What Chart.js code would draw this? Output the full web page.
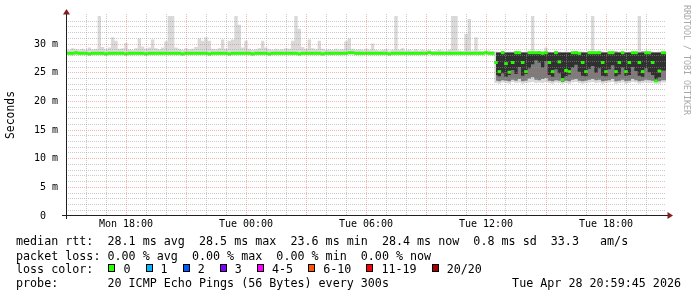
<!DOCTYPE html>
<html>
<head>
<meta charset="utf-8">
<script src="https://cdn.jsdelivr.net/npm/chart.js@4.4.1/dist/chart.umd.min.js"></script>
<style>
html,body{margin:0;padding:0;background:#fff;}
#wrap{position:relative;width:697px;height:297px;overflow:hidden;font-family:"DejaVu Sans Mono",monospace;color:#000;}
#chart{position:absolute;left:0;top:0;}
.leg{position:absolute;left:16px;font-size:11.7px;line-height:14px;white-space:pre;}
.box{display:inline-block;width:5px;height:6px;border:1px solid #000;vertical-align:top;margin:2px 8px 0 1px;}
#stamp{position:absolute;right:16px;top:276px;font-size:11.7px;line-height:14px;white-space:pre;}
#credit{position:absolute;left:682px;top:5px;font-size:8.3px;line-height:10px;writing-mode:vertical-rl;color:#a8a8a8;white-space:pre;}
</style>
</head>
<body>
<div id="wrap">
  <canvas id="chart" width="697" height="297"></canvas>
  <div class="leg" id="rtt" style="top:234px"></div>
  <div class="leg" id="loss" style="top:249px"></div>
  <div class="leg" id="lossRow" style="top:262px"></div>
  <div class="leg" id="probe" style="top:276px"></div>
  <div id="stamp"></div>
  <div id="credit">RRDTOOL / TOBI OETIKER</div>
</div>
<script>
// 10 minute samples, hour 0 = Mon 15:00, hour 30 = Tue 21:00
const stepMinutes = 10;

const xTickHours  = [3, 9, 15, 21, 27];
const xTickLabels = ["Mon 18:00", "Tue 00:00", "Tue 06:00", "Tue 12:00", "Tue 18:00"];
const yTickValues = [0, 5, 10, 15, 20, 25, 30];
const yTickLabels = ["0  ", "5 m", "10 m", "15 m", "20 m", "25 m", "30 m"];

// median rtt (ms), one per sample
const median = [
  28.4,28.4,28.4,28.5,28.4,28.4,28.4,28.3,28.4,28.4,
  28.4,28.4,28.3,28.4,28.4,28.4,28.4,28.4,28.3,28.4,
  28.4,28.4,28.4,28.4,28.3,28.4,28.4,28.4,28.4,28.4,
  28.4,28.4,28.4,28.4,28.4,28.3,28.4,28.4,28.4,28.4,
  28.4,28.4,28.4,28.3,28.4,28.4,28.4,28.4,28.4,28.3,
  28.4,28.4,28.4,28.4,28.4,28.4,28.3,28.4,28.4,28.4,
  28.4,28.3,28.4,28.4,28.4,28.4,28.4,28.4,28.4,28.4,
  28.3,28.4,28.4,28.4,28.4,28.4,28.4,28.3,28.4,28.4,
  28.4,28.4,28.4,28.4,28.4,28.5,28.5,28.4,28.4,28.4,
  28.4,28.4,28.4,28.4,28.4,28.4,28.4,28.3,28.4,28.4,
  28.4,28.4,28.4,28.4,28.4,28.4,28.4,28.4,28.4,28.5,
  28.4,28.4,28.4,28.4,28.4,28.4,28.4,28.4,28.4,28.4,
  28.4,28.4,28.4,28.4,28.4,28.4,28.5,28.4,28.4,
  26.8,25.2,28.5,26.6,25.1,26.8,28.5,28.5,26.8,25.2,
  28.5,28.5,28.5,28.5,28.4,28.5,26.8,25.2,28.5,26.9,
  23.8,25.4,25.2,28.5,28.5,28.4,26.8,25.2,28.5,28.5,
  28.5,28.5,26.8,25.2,28.5,28.5,25.2,26.8,28.5,25.2,
  26.8,28.5,28.5,26.8,25.2,28.5,28.5,26.8,23.6,25.3,
  28.5,28.5
];

// slowest ping per sample (top of the smoke)
const pingMax = [
  29.2,29.0,29.3,29.1,29.0,29.2,29.0,29.4,29.1,29.2,
  34.9,29.5,29.1,29.4,31.2,30.6,29.2,29.3,30.2,29.1,
  29.0,29.3,31.0,29.6,29.2,29.4,30.8,29.3,29.1,29.4,
  30.5,34.9,34.9,29.4,29.2,29.0,29.3,29.1,29.2,29.5,
  31.0,30.6,31.2,30.6,29.2,29.1,29.3,30.8,29.2,30.6,
  30.8,34.9,33.4,29.4,30.6,29.2,29.0,29.1,29.3,30.6,
  29.4,29.1,29.0,29.2,29.0,29.1,29.3,29.2,30.6,34.9,
  32.7,29.5,29.2,30.8,29.3,29.1,30.6,29.2,29.0,29.1,
  29.0,29.2,29.0,29.1,30.5,31.0,29.2,29.0,29.1,29.0,
  29.2,29.0,30.1,29.0,28.9,29.0,29.1,28.9,29.0,34.9,
  29.0,29.3,28.9,29.0,28.9,29.1,28.9,29.0,28.9,29.0,
  28.8,28.9,29.0,28.9,28.8,29.0,34.9,34.9,28.9,28.8,
  31.8,34.4,28.9,31.2,28.9,28.8,28.8,28.9,28.8,
  28.7,28.6,28.7,28.6,28.7,28.7,28.6,28.7,28.6,28.7,
  28.7,34.9,28.7,28.6,28.8,29.4,28.7,28.6,28.7,28.7,
  28.6,28.7,28.6,28.7,28.8,28.6,28.7,28.6,28.7,34.9,
  28.7,28.6,28.7,28.6,28.7,28.8,28.6,28.7,28.7,28.6,
  28.7,28.7,28.6,34.9,28.7,28.7,28.6,28.7,28.6,28.7,
  28.7,28.7
];

// fastest ping per sample (bottom of the smoke)
const pingMin = [
  28.1,28.1,28.0,28.1,28.1,28.2,28.1,28.0,28.1,28.1,
  28.1,28.1,28.0,28.1,28.1,28.1,28.2,28.1,28.0,28.1,
  28.1,28.1,28.1,28.1,28.0,28.1,28.1,28.1,28.2,28.1,
  28.1,28.1,28.1,28.1,28.1,28.0,28.1,28.1,28.1,28.1,
  28.1,28.2,28.1,28.0,28.1,28.1,28.1,28.1,28.1,28.0,
  28.1,28.1,28.1,28.1,28.2,28.1,28.0,28.1,28.1,28.1,
  28.1,28.0,28.1,28.1,28.1,28.1,28.1,28.2,28.1,28.1,
  28.0,28.1,28.1,28.1,28.1,28.1,28.1,28.0,28.1,28.1,
  28.1,28.1,28.1,28.1,28.1,28.2,28.2,28.1,28.1,28.1,
  28.1,28.1,28.1,28.1,28.1,28.1,28.1,28.0,28.1,28.1,
  28.1,28.1,28.1,28.1,28.1,28.1,28.1,28.1,28.1,28.2,
  28.1,28.1,28.1,28.1,28.1,28.1,28.1,28.1,28.1,28.1,
  28.1,28.1,28.1,28.1,28.1,28.1,28.2,28.1,28.0,
  23.2,23.1,23.3,23.2,23.1,23.4,23.2,23.3,23.1,23.2,
  23.3,23.4,23.2,23.3,23.2,23.4,23.2,23.1,23.3,23.2,
  23.1,23.2,23.1,23.3,23.4,23.2,23.1,23.2,23.3,23.4,
  23.2,23.3,23.1,23.2,23.3,23.4,23.1,23.2,23.3,23.1,
  23.2,23.4,23.3,23.1,23.2,23.3,23.2,23.2,23.1,23.1,
  23.3,23.3
];

// inner smoke, from the 12:30 sample on (sample 129)
const bandStart = 129;
const midLo = [
  23.6,23.5,23.7,23.6,23.5,23.8,23.6,23.9,23.5,23.6,
  24.0,24.2,23.8,23.7,23.9,24.1,23.6,23.5,23.7,23.6,
  23.4,23.6,23.5,23.8,23.9,23.6,23.5,23.6,23.8,23.9,
  23.7,23.8,23.5,23.6,23.7,23.9,23.5,23.6,23.8,23.5,
  23.6,23.9,23.7,23.5,23.6,23.8,23.7,23.6,23.4,23.5,
  23.7,23.7
];
const midHi = [
  28.6,28.6,28.7,28.6,28.6,28.6,28.7,28.6,28.6,28.6,
  28.6,28.6,28.6,28.7,28.6,28.6,28.6,28.6,28.7,28.6,
  28.6,28.6,28.6,28.6,28.7,28.6,28.6,28.6,28.6,28.6,
  28.6,28.7,28.6,28.6,28.6,28.6,28.7,28.6,28.6,28.6,
  28.6,28.6,28.6,28.6,28.7,28.6,28.6,28.6,28.6,28.6,
  28.6,28.6
];
const darkLo = [
  24.6,24.4,24.9,24.3,24.6,25.5,24.8,26.0,24.5,24.8,
  25.8,26.5,27.2,26.8,25.9,27.0,24.6,24.3,25.6,24.9,
  23.6,24.4,24.7,25.9,26.4,25.2,24.5,24.4,25.7,26.2,
  25.0,25.8,24.5,24.4,25.6,26.3,24.4,24.7,25.9,24.5,
  24.6,26.0,25.3,24.5,24.3,25.8,25.1,24.6,23.5,24.2,
  25.4,25.4
];
const darkHi = [
  28.5,28.5,28.5,28.5,28.5,28.5,28.5,28.5,28.5,28.5,
  28.5,28.4,28.5,28.5,28.5,28.5,28.5,28.5,28.5,28.5,
  28.5,28.5,28.5,28.5,28.5,28.5,28.5,28.5,28.5,28.5,
  28.5,28.5,28.5,28.5,28.5,28.5,28.5,28.5,28.5,28.5,
  28.5,28.5,28.5,28.5,28.5,28.5,28.5,28.5,28.5,28.5,
  28.5,28.5
];

const lossLabels = ["0", "1", "2", "3", "4-5", "6-10", "11-19", "20/20"];
const lossColors = ["#26ff00", "#00b8ff", "#0059ff", "#7e00ff", "#ff00ff", "#ff5500", "#ff0000", "#a10000"];

const rttText   = "median rtt:  28.1 ms avg  28.5 ms max  23.6 ms min  28.4 ms now  0.8 ms sd  33.3   am/s";
const lossText  = "packet loss: 0.00 % avg  0.00 % max  0.00 % min  0.00 % now";
const probeText = "probe:       20 ICMP Echo Pings (56 Bytes) every 300s";
const stampText = "Tue Apr 28 20:59:45 2026";

const MONO = "DejaVu Sans Mono";
const GRID = "rgba(150,150,150,0.5)";
const MGRID = "rgba(232,90,90,0.45)";

const byId = (id)=>document.getElementById(id);
const pts = (arr, start=0)=> arr.map((v,i)=>({x:(start+i)*stepMinutes/60, y:v}));

function band(data, order){
  return {data, order, borderWidth:0, pointRadius:0, stepped:"middle", fill:false};
}
function bandTop(data, order, color){
  return {data, order, borderWidth:0, pointRadius:0, stepped:"middle", fill:"-1", backgroundColor:color};
}

const axisArrows = {
  id:"axisArrows",
  afterDraw(chart){
    const {ctx, chartArea:a} = chart;
    ctx.save();
    ctx.strokeStyle = "#1f1f1f";
    ctx.lineWidth = 1;
    ctx.beginPath();
    ctx.moveTo(a.left-4, a.bottom-0.5); ctx.lineTo(a.right+2, a.bottom-0.5);
    ctx.moveTo(a.left+0.5, a.bottom+3); ctx.lineTo(a.left+0.5, a.top);
    ctx.stroke();
    ctx.fillStyle = "#801f1f";
    ctx.beginPath();
    ctx.moveTo(a.left+0.5, a.top-5); ctx.lineTo(a.left-3, a.top+0.5); ctx.lineTo(a.left+4, a.top+0.5);
    ctx.fill();
    ctx.beginPath();
    ctx.moveTo(a.right+7, a.bottom-0.5); ctx.lineTo(a.right+1.5, a.bottom-4); ctx.lineTo(a.right+1.5, a.bottom+3);
    ctx.fill();
    ctx.restore();
  }
};

function legend(){
  byId("rtt").textContent = rttText;
  byId("loss").textContent = lossText;
  byId("probe").textContent = probeText;
  byId("stamp").textContent = stampText;
  const row = byId("lossRow");
  row.textContent = "loss color:  ";
  lossLabels.forEach((lab,i)=>{
    const b = document.createElement("span");
    b.className = "box";
    b.style.background = lossColors[i];
    row.appendChild(b);
    row.appendChild(document.createTextNode(lab + "  "));
  });
}

function draw(){
  new Chart(byId("chart"), {
    type:"line",
    data:{ datasets:[
      band(pts(pingMin), 3),
      bandTop(pts(pingMax), 3, "#d9d9d9"),
      band(pts(midLo, bandStart), 2),
      bandTop(pts(midHi, bandStart), 2, "#7c7c7c"),
      band(pts(darkLo, bandStart), 1),
      bandTop(pts(darkHi, bandStart), 1, "#303030"),
      { data:pts(median), order:0, showLine:false, pointStyle:"line",
        pointRadius:1.8, pointBorderWidth:3, pointBorderColor:"#26ff00", pointBackgroundColor:"#26ff00" }
    ]},
    options:{
      responsive:false, animation:false, events:[],
      layout:{ padding:{left:0, right:31, top:13, bottom:61} },
      plugins:{ legend:{display:false}, tooltip:{enabled:false} },
      scales:{
        x:{
          type:"linear", min:0, max:30,
          afterFit:(s)=>{ s.height = 20; },
          ticks:{ stepSize:1, autoSkip:false, maxRotation:0, padding:2, color:"#000",
            font:{family:MONO, size:10},
            callback:(v)=>{ const k = xTickHours.indexOf(v); return k<0 ? "" : xTickLabels[k]; } },
          grid:{ z:1, drawTicks:false, lineWidth:1,
            color:(c)=>{ const v = c.tick.value; if(v<=0 || v>=30) return "transparent"; return v%3===0 ? MGRID : GRID; } },
          border:{ display:false, dash:[1,1] }
        },
        y:{
          type:"linear", min:0, max:35.26,
          afterFit:(s)=>{ s.width = 66; },
          ticks:{ stepSize:1, autoSkip:false, padding:8, color:"#000",
            font:{family:MONO, size:10},
            callback:(v)=>{ const k = yTickValues.indexOf(v); return k<0 ? "" : yTickLabels[k]; } },
          grid:{ z:1, drawTicks:false, lineWidth:1,
            color:(c)=>{ const v = c.tick.value; if(v<=0 || v>34.5 || !Number.isInteger(v)) return "transparent"; return v%5===0 ? MGRID : GRID; } },
          border:{ display:false, dash:[1,1] },
          title:{ display:true, text:"Seconds", color:"#000", font:{family:MONO, size:11.4}, padding:{top:4, bottom:0} }
        }
      }
    },
    plugins:[axisArrows]
  });
}

document.addEventListener("DOMContentLoaded", ()=>{ legend(); draw(); });
</script>
</body>
</html>
